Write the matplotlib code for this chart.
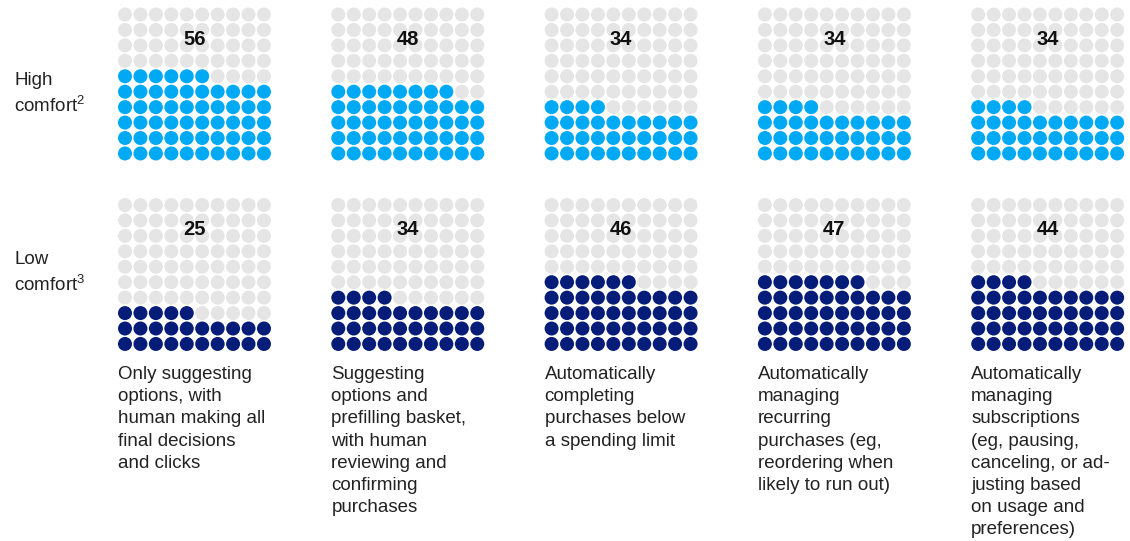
import matplotlib.pyplot as plt
from matplotlib.patches import Circle

plt.rcParams['font.family'] = ['Liberation Sans', 'DejaVu Sans']
plt.rcParams['mathtext.default'] = 'regular'

# share of respondents (%), one value per use case
high_comfort = [56, 48, 34, 34, 34]
low_comfort = [25, 34, 46, 47, 44]
row_labels = ['High\ncomfort$^{2}$', 'Low\ncomfort$^{3}$']
use_cases = [
    'Only suggesting\noptions, with\nhuman making all\nfinal decisions\nand clicks',
    'Suggesting\noptions and\nprefilling basket,\nwith human\nreviewing and\nconfirming\npurchases',
    'Automatically\ncompleting\npurchases below\na spending limit',
    'Automatically\nmanaging\nrecurring\npurchases (eg,\nreordering when\nlikely to run out)',
    'Automatically\nmanaging\nsubscriptions\n(eg, pausing,\ncanceling, or ad-\njusting based\non usage and\npreferences)',
]

GREY = '#E5E5E5'
BLUE = '#00A9F4'
NAVY = '#051C78'

W, H = 1130, 541
fig = plt.figure(figsize=(W / 100, H / 100), dpi=100)
ax = fig.add_axes([0, 0, 1, 1])
ax.set_xlim(0, W)
ax.set_ylim(H, 0)
ax.axis('off')

x0 = 125.0      # centre of first dot, first grid
col_gap = 213.3
row_y0 = [14.5, 205.0]
step = 15.44
radius = 7.0


def draw_waffle(cx, cy, value, color):
    # cy = centre of top row; fill from bottom row, left to right
    for i in range(100):
        r = 9 - i // 10
        c = i % 10
        fc = color if i < value else GREY
        ax.add_patch(Circle((cx + c * step, cy + r * step), radius,
                            facecolor=fc, edgecolor='none'))
    ax.text(cx + 4.5 * step, cy + 1.6 * step, str(value), ha='center',
            va='center', fontsize=14.5, fontweight='bold', color='#111111')


for k, series in enumerate([high_comfort, low_comfort]):
    color = BLUE if k == 0 else NAVY
    for j, v in enumerate(series):
        draw_waffle(x0 + j * col_gap, row_y0[k], v, color)

ax.text(14, 72, row_labels[0], ha='left', va='top', fontsize=13.5,
        linespacing=1.40, color='#222222')
ax.text(14, 251, row_labels[1], ha='left', va='top', fontsize=13.5,
        linespacing=1.40, color='#222222')

for j, lab in enumerate(use_cases):
    ax.text(x0 - 7 + j * col_gap, 366, lab, ha='left', va='top',
            fontsize=13.5, linespacing=1.40, color='#222222')

fig.savefig('out.png', dpi=100)
